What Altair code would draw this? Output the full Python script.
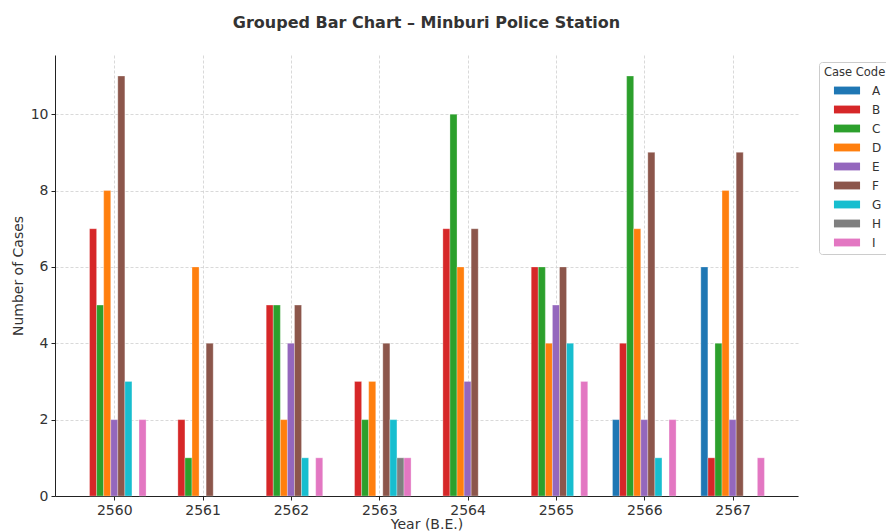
import altair as alt
import pandas as pd

years = [2560, 2561, 2562, 2563, 2564, 2565, 2566, 2567]
codes = ["A", "B", "C", "D", "E", "F", "G", "H", "I"]
A = [0, 0, 0, 0, 0, 0, 2, 6]
B = [7, 2, 5, 3, 7, 6, 4, 1]
C = [5, 1, 5, 2, 10, 6, 11, 4]
D = [8, 6, 2, 3, 6, 4, 7, 8]
E = [2, 0, 4, 0, 3, 5, 2, 2]
F = [11, 4, 5, 4, 7, 6, 9, 9]
G = [3, 0, 1, 2, 0, 4, 1, 0]
H = [0, 0, 0, 1, 0, 0, 0, 0]
I = [2, 0, 1, 1, 0, 3, 2, 1]
series = {"A": A, "B": B, "C": C, "D": D, "E": E, "F": F, "G": G, "H": H, "I": I}
colors = ["#1f77b4", "#d62728", "#2ca02c", "#ff7f0e", "#9467bd",
          "#8c564b", "#17becf", "#7f7f7f", "#e377c2"]

rows = []
for ci, c in enumerate(codes):
    for yi, y in enumerate(years):
        rows.append({"year": y, "yi": yi, "code": c, "ci": ci, "cases": series[c][yi]})
df = pd.DataFrame(rows)

FONT = "DejaVu Sans"
TXT = "#333333"

bars = alt.Chart(df).transform_filter("datum.cases > 0").transform_calculate(
    xa="datum.yi + (datum.ci - 4) * 0.08 - 0.04",
    xb="datum.yi + (datum.ci - 4) * 0.08 + 0.04",
).mark_bar(stroke="white", strokeWidth=0.5, strokeOpacity=0.6).encode(
    x=alt.X("xa:Q",
            scale=alt.Scale(domain=[-0.671, 7.74], nice=False, zero=False),
            axis=alt.Axis(values=list(range(len(years))),
                          labelExpr=f"'' + ({years[0]} + datum.value)",
                          title="Year (B.E.)", titleBaseline="top", titleY=21,
                          titleAnchor="middle")),
    x2="xb:Q",
    y=alt.Y("cases:Q",
            scale=alt.Scale(domain=[0, 11.55], nice=False),
            axis=alt.Axis(values=[0, 2, 4, 6, 8, 10], title="Number of Cases",
                          titleX=-37, titleY=220.5, titleAngle=270,
                          titleBaseline="middle", titleAlign="center")),
    y2=alt.datum(0),
    color=alt.Color("code:N", scale=alt.Scale(domain=codes, range=colors),
                    legend=alt.Legend(
                        title="Case Code", orient="none", legendX=764, legendY=7,
                        symbolType="M-2.9,-0.87L2.9,-0.87L2.9,0.87L-2.9,0.87Z",
                        symbolSize=81, symbolStrokeWidth=0, symbolOffset=17,
                        labelOffset=19, rowPadding=7, padding=5,
                        strokeColor="#cccccc", cornerRadius=3, fillColor="white",
                        titleFont=FONT, titleFontSize=11.5, titleFontWeight="normal",
                        titleColor=TXT, labelFont=FONT, labelFontSize=12,
                        labelColor=TXT, titlePadding=6)),
)

chart = bars.properties(
    width=743, height=441,
    autosize=alt.AutoSizeParams(type="none"),
    padding={"left": 47, "top": 47, "right": 88, "bottom": 36},
    title=alt.Title("Grouped Bar Chart – Minburi Police Station", font=FONT,
                    fontSize=16, fontWeight="bold", color=TXT, offset=24,
                    anchor="middle"),
).configure_view(stroke=None).configure_axis(
    labelFont=FONT, labelFontSize=14, labelColor=TXT,
    titleFont=FONT, titleFontSize=14, titleFontWeight="normal", titleColor=TXT,
    domainColor="#222222", domainWidth=1, tickColor="#222222", tickSize=4,
    labelPadding=3, gridColor="#cfcfcf", gridDash=[3, 2], gridWidth=0.8,
)

chart.save("out.html", embed_options={"renderer": "svg", "actions": False})
